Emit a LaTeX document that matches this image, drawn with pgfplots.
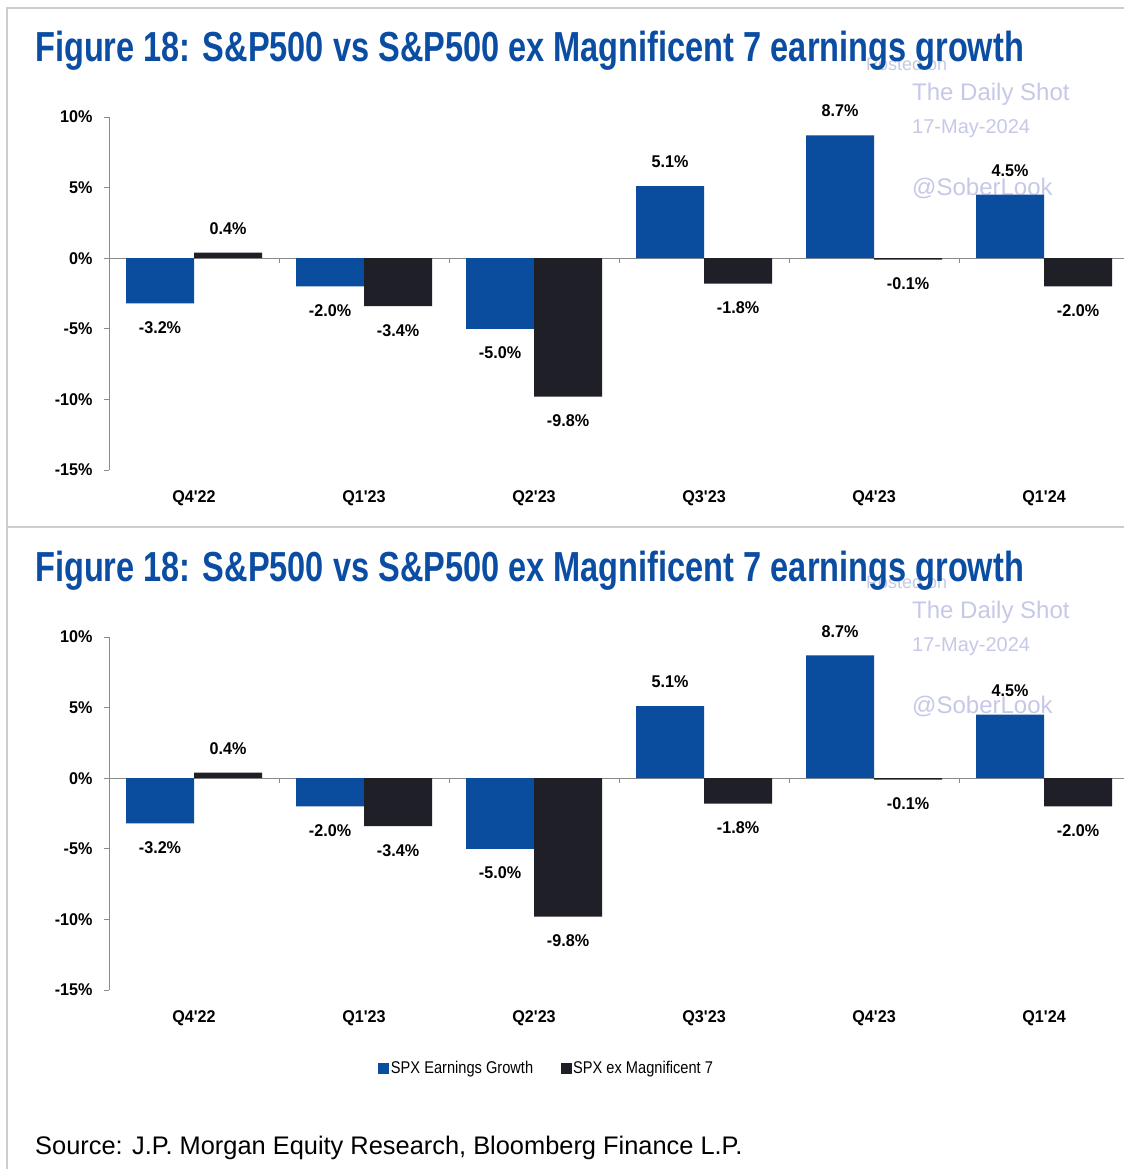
\documentclass[border=0pt]{standalone}
\usepackage{fontspec}
\setmainfont{Liberation Sans}
\newfontfamily\narrow[FakeStretch=0.95]{Liberation Sans}
\newfontfamily\legfont[FakeStretch=0.86]{Liberation Sans}
\newfontfamily\titlefont[FakeStretch=0.775]{Liberation Sans}
\usepackage{pgfplots}
\pgfplotsset{compat=1.18}
\definecolor{jpblue}{HTML}{0A4C9E}
\definecolor{jpdark}{HTML}{1E1F27}
\definecolor{titleblue}{HTML}{0B4DA2}
\definecolor{wm}{HTML}{8E93D0}
\definecolor{framegray}{HTML}{CDCDCD}
\definecolor{axgray}{HTML}{8A8A8A}

\pgfplotsset{
 jp/.style={
  scale only axis, width=1015pt, height=353pt,
  xmin=-0.5, xmax=5.47, ymin=-15, ymax=10,
  axis y line*=left, axis x line*=bottom,
  axis line style={draw=axgray, line width=1pt},
  x axis line style={draw=none},
  xtick={0,...,5}, xticklabels={Q4'22,Q1'23,Q2'23,Q3'23,Q4'23,Q1'24},
  x tick style={draw=none},
  ytick={-15,-10,-5,0,5,10}, yticklabels={-15\%,-10\%,-5\%,0\%,5\%,10\%},
  y tick style={draw=axgray, line width=1pt},
  major tick length=5pt, tick align=outside,
  ticklabel style={font=\narrow\bfseries\fontsize{17}{17}\selectfont, text=black},
  xticklabel style={yshift=-12pt},
  yticklabel style={xshift=-8pt},
  extra y ticks={0}, extra y tick labels={},
  extra y tick style={grid=major, major grid style={draw=axgray, line width=1pt}},
  ybar=0pt, bar width=68pt,
  point meta=y,
  nodes near coords={\pgfmathprintnumber[fixed, fixed zerofill, precision=1, assume math mode=true]{\pgfplotspointmeta}\%},
  nodes near coords align={vertical},
  every node near coord/.append style={font=\narrow\bfseries\fontsize{17}{17}\selectfont, text=black, inner ysep=18pt},
  clip=false,
 }
}

\newcommand{\spx}{\addplot[fill=jpblue, draw=none, legend image code/.code={\fill[jpblue] (0pt,-5.5pt) rectangle (11pt,5.5pt);}] coordinates {(0,-3.2) (1,-2.0) (2,-5.0) (3,5.1) (4,8.7) (5,4.5)};}
\newcommand{\exm}{\addplot[fill=jpdark, draw=none, legend image code/.code={\fill[jpdark] (0pt,-5.5pt) rectangle (11pt,5.5pt);}] coordinates {(0,0.4) (1,-3.4) (2,-9.8) (3,-1.8) (4,-0.1) (5,-2.0)};}
\newcommand{\zeroticks}{\pgfplotsinvokeforeach{0.5,1.5,2.5,3.5,4.5}{\draw[axgray, line width=1pt] (axis cs:##1,0) -- ++(0pt,-5pt);}}

\newcommand{\watermark}[1]{%
  \node[anchor=west, text=wm, opacity=0.5, font=\fontsize{24}{24}\selectfont, inner sep=0pt] at (912pt,{-(94pt+#1)}) {The Daily Shot};
  \node[anchor=west, text=wm, opacity=0.5, font=\fontsize{20}{20}\selectfont, inner sep=0pt] at (912pt,{-(129pt+#1)}) {17-May-2024};
  \node[anchor=west, text=wm, opacity=0.5, font=\fontsize{24}{24}\selectfont, inner sep=0pt] at (912pt,{-(188pt+#1)}) {@SoberLook};
}
\newcommand{\posted}[1]{%
  \node[anchor=west, text=wm, opacity=0.5, font=\fontsize{18}{18}\selectfont, inner sep=0pt] at (866pt,{-(64pt+#1)}) {Posted on};
}
\newcommand{\figtitle}[1]{%
  \node[anchor=base west, text=titleblue, inner sep=0pt, font=\titlefont\bfseries\fontsize{42}{42}\selectfont] at (35pt,{-(62pt+#1)}) {Figure 18: S\&P500 vs S\&P500 ex Magnificent 7 earnings growth};
}

\begin{document}
\begin{tikzpicture}
\path[use as bounding box] (0,0) rectangle (1124pt,-1169pt);
\fill[white] (0,0) rectangle (1124pt,-1169pt);
% frame
\draw[framegray, line width=2pt] (7pt,-1169pt) -- (7pt,-8pt) -- (1124pt,-8pt);
\draw[framegray, line width=2pt] (7pt,-527pt) -- (1124pt,-527pt);

% ---------- top panel ----------
\posted{0pt}
\figtitle{0pt}
\begin{axis}[jp, at={(109pt,-470pt)}, anchor=south west]
\spx
\exm
\zeroticks
\end{axis}
\watermark{0pt}

% ---------- bottom panel ----------
\posted{518pt}
\figtitle{519pt}
\begin{axis}[jp, at={(109pt,-990pt)}, anchor=south west,
  legend style={at={(0.431,-0.221)}, anchor=center, draw=none, fill=none,
    legend columns=2, font=\legfont\fontsize{17}{17}\selectfont,
    /tikz/every even column/.append style={column sep=26pt},
    inner sep=0pt, nodes={inner sep=1.5pt}},
  legend cell align=left]
\spx
\addlegendentry{SPX Earnings Growth}
\exm
\addlegendentry{SPX ex Magnificent 7}
\zeroticks
\end{axis}
\watermark{518pt}

% source
\node[anchor=base west, inner sep=0pt, font=\fontsize{25.4}{25.4}\selectfont] at (35pt,-1154pt) {Source: J.P. Morgan Equity Research, Bloomberg Finance L.P.};
\end{tikzpicture}
\end{document}
